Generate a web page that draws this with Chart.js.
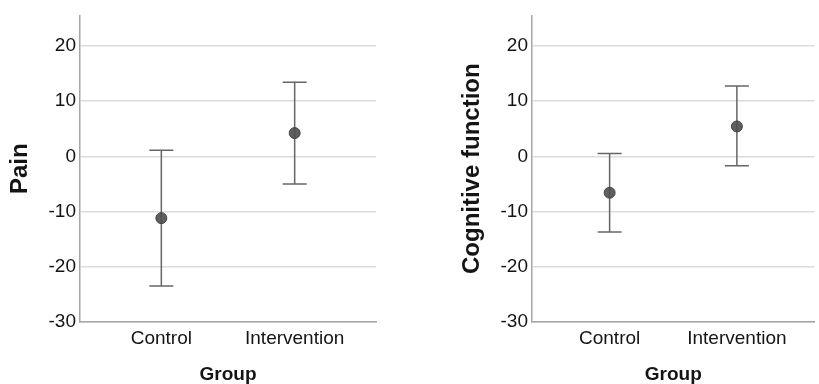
<!DOCTYPE html>
<html>
<head>
<meta charset="utf-8">
<script src="https://cdn.jsdelivr.net/npm/chart.js@4"></script>
<style>
  html, body { margin: 0; padding: 0; background: #ffffff; width: 819px; height: 384px; overflow: hidden; }
  .wrap { position: absolute; top: 0; height: 384px; }
  #w1 { left: 0; width: 410px; }
  #w2 { left: 410px; width: 418px; }
</style>
</head>
<body>
<div class="wrap" id="w1"><canvas id="c1" width="410" height="384"></canvas></div>
<div class="wrap" id="w2"><canvas id="c2" width="418" height="384"></canvas></div>
<script>
// ---- Data ----
const groups = ['Control', 'Intervention'];

const painMean  = [-11.2, 4.2];
const painLower = [-23.5, -5.0];
const painUpper = [1.1, 13.4];

const cogMean  = [-6.6, 5.4];
const cogLower = [-13.7, -1.7];
const cogUpper = [0.5, 12.7];

const yTicks = [-30, -20, -10, 0, 10, 20];
const yMin = -30, yMax = 25.5;

const FONT = '"Liberation Sans", Arial, sans-serif';
const GRID = '#dcdcdc';
const AXIS = '#a6a6a6';
const BAR = '#666666';
const TEXT = '#141414';

function makeChart(canvasId, yTitle, mean, lower, upper, cfg) {
  const datasets = [];
  // mean points (first => drawn on top)
  datasets.push({
    type: 'scatter',
    data: groups.map((g, i) => ({ x: i, y: mean[i] })),
    pointRadius: 5.5,
    pointBackgroundColor: 'rgba(78,78,78,0.9)',
    pointBorderColor: 'rgba(60,60,60,0.9)',
    pointBorderWidth: 1
  });
  // caps
  datasets.push({
    type: 'scatter',
    data: groups.flatMap((g, i) => [{ x: i, y: lower[i] }, { x: i, y: upper[i] }]),
    pointStyle: 'line',
    pointRadius: 12,
    pointBorderColor: BAR,
    pointBorderWidth: 1.5
  });
  // vertical whiskers
  groups.forEach((g, i) => {
    datasets.push({
      type: 'line',
      data: [{ x: i, y: lower[i] }, { x: i, y: upper[i] }],
      borderColor: BAR,
      borderWidth: 1.5,
      pointRadius: 0,
      fill: false
    });
  });

  return new Chart(document.getElementById(canvasId), {
    type: 'scatter',
    data: { datasets },
    options: {
      responsive: false,
      animation: false,
      devicePixelRatio: 1,
      layout: { padding: { top: 13, right: cfg.padRight, bottom: 0, left: 0 } },
      plugins: { legend: { display: false }, tooltip: { enabled: false } },
      scales: {
        x: {
          type: 'linear',
          min: -0.61,
          max: 1.61,
          afterBuildTicks: (axis) => { axis.ticks = groups.map((g, i) => ({ value: i })); },
          afterFit: (scale) => { scale.height = 62; },
          grid: { display: false, drawTicks: false },
          border: { display: true, color: AXIS, width: 1.5 },
          ticks: {
            padding: 5,
            color: TEXT,
            font: { family: FONT, size: 19 },
            maxRotation: 0,
            callback: (v) => groups[v] !== undefined ? groups[v] : ''
          },
          title: {
            display: true,
            text: 'Group',
            color: TEXT,
            font: { family: FONT, size: 19, weight: 'bold', lineHeight: 1 },
            padding: { top: 0, bottom: 0 }
          }
        },
        y: {
          type: 'linear',
          min: yMin,
          max: yMax,
          afterBuildTicks: (axis) => { axis.ticks = yTicks.map(v => ({ value: v })); },
          afterFit: (scale) => { scale.width = cfg.yWidth; },
          grid: { display: true, color: GRID, lineWidth: 1.5, drawTicks: false },
          border: { display: true, color: AXIS, width: 1.5 },
          ticks: {
            padding: 4,
            color: TEXT,
            font: { family: FONT, size: 19 }
          },
          title: {
            display: true,
            text: yTitle,
            color: TEXT,
            font: { family: FONT, size: 24, weight: 'bold', lineHeight: 1.2 },
            padding: { top: cfg.titlePad, bottom: 0 }
          }
        }
      }
    }
  });
}

makeChart('c1', 'Pain', painMean, painLower, painUpper, { yWidth: 80, padRight: 34, titlePad: 5.6 });
makeChart('c2', 'Cognitive function', cogMean, cogLower, cogUpper, { yWidth: 122, padRight: 0, titlePad: 47.6 });
</script>
</body>
</html>
